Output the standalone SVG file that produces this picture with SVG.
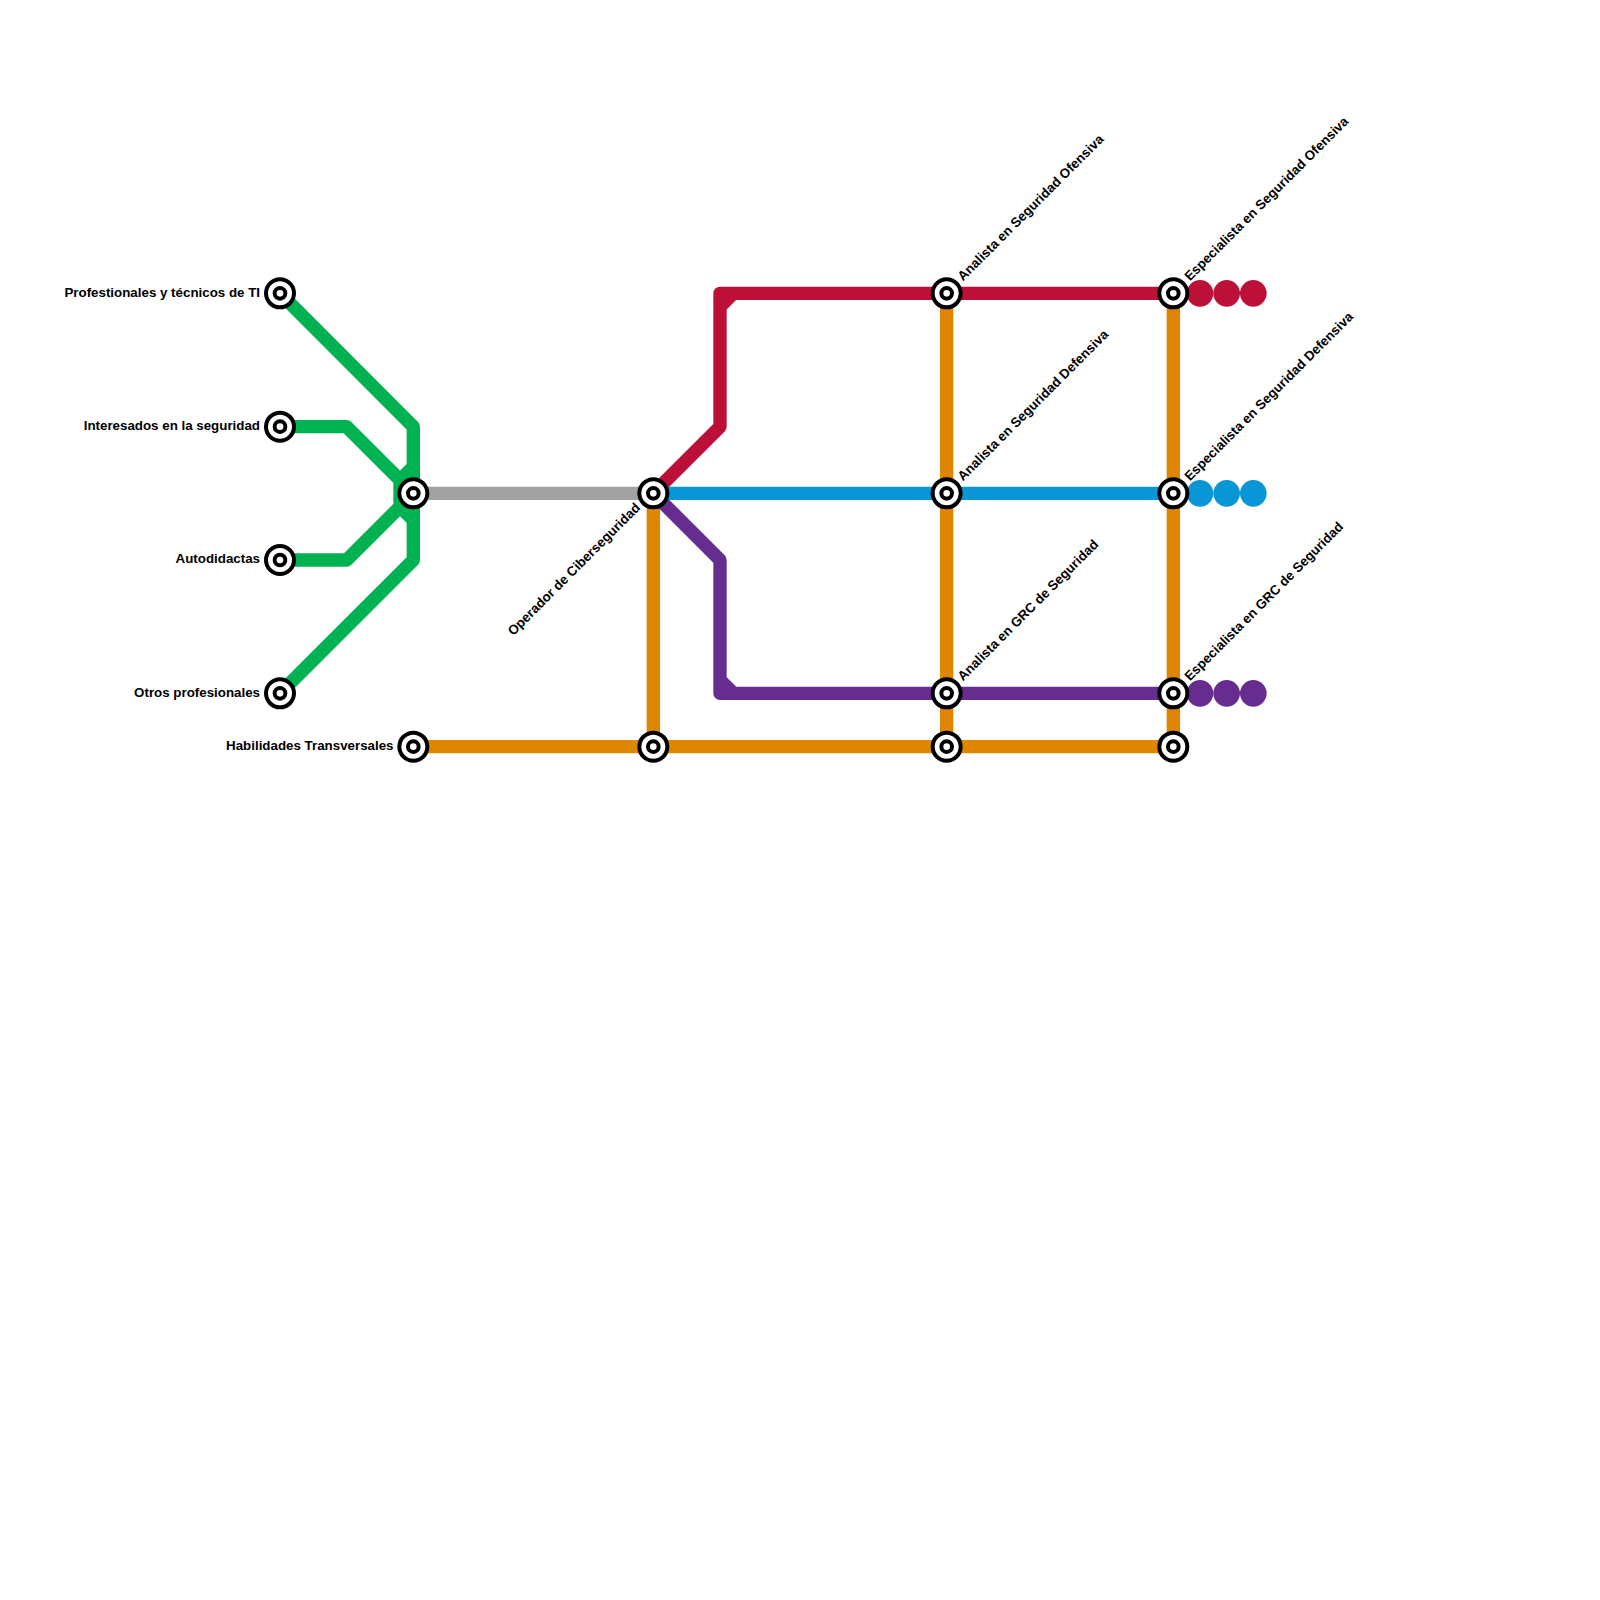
<svg xmlns="http://www.w3.org/2000/svg" width="1600" height="1600" viewBox="0 0 1600 1600">
<style>
.l{fill:none;stroke-width:13.33;stroke-linejoin:round;stroke-linecap:round}
.g{stroke:#00b251}.y{stroke:#a2a2a2}.o{stroke:#df8600}.b{stroke:#0896d7}.r{stroke:#bd1038}.p{stroke:#662c90}
text{font-family:"Liberation Sans",Arial,sans-serif;font-size:13.33px;font-weight:700;fill:#000}
.e{text-anchor:end}
</style>
<defs>
<g id="s"><circle r="14" fill="#fff" stroke="#000" stroke-width="4"/><circle r="5.33" fill="#fff" stroke="#000" stroke-width="4"/></g>
</defs>
<rect width="1600" height="1600" fill="#fff"/>
<g id="connectors">
<path class="l g" d="M280 293.33L413.33 426.67V560L280 693.33"/>
<path class="l g" d="M280 426.67H346.67L400 480V506.67L346.67 560H280"/>
<path class="l g" d="M400 480L413.33 466.67M400 506.67L413.33 520"/>
<path class="l y" d="M413.33 493.33H653.33"/>
<path class="l o" d="M653.33 493.33V746.67M413.33 746.67H1173.33M946.67 293.33V746.67M1173.33 293.33V746.67"/>
<path class="l r" d="M653.33 493.33L720 426.67V293.33H1173.33M720 306.67L733.33 293.33"/>
<path class="l p" d="M653.33 493.33L720 560V693.33H1173.33M720 680L733.33 693.33"/>
<path class="l b" d="M653.33 493.33H1173.33"/>
</g>
<g id="ends">
<circle cx="1200" cy="293.33" r="13.33" fill="#bd1038"/><circle cx="1226.67" cy="293.33" r="13.33" fill="#bd1038"/><circle cx="1253.33" cy="293.33" r="13.33" fill="#bd1038"/>
<circle cx="1200" cy="493.33" r="13.33" fill="#0896d7"/><circle cx="1226.67" cy="493.33" r="13.33" fill="#0896d7"/><circle cx="1253.33" cy="493.33" r="13.33" fill="#0896d7"/>
<circle cx="1200" cy="693.33" r="13.33" fill="#662c90"/><circle cx="1226.67" cy="693.33" r="13.33" fill="#662c90"/><circle cx="1253.33" cy="693.33" r="13.33" fill="#662c90"/>
</g>
<g id="n1"><use href="#s" x="280" y="293.33"/><text class="e" x="260" y="296.5">Profestionales y técnicos de TI</text></g>
<g id="n2"><use href="#s" x="280" y="426.67"/><text class="e" x="260" y="429.5">Interesados en la seguridad</text></g>
<g id="n3"><use href="#s" x="280" y="560"/><text class="e" x="260" y="563">Autodidactas</text></g>
<g id="n4"><use href="#s" x="280" y="693.33"/><text class="e" x="260" y="696.5">Otros profesionales</text></g>
<g id="n5"><use href="#s" x="413.33" y="493.33"/></g>
<g id="n6"><use href="#s" x="413.33" y="746.67"/><text class="e" x="393.5" y="749.5">Habilidades Transversales</text></g>
<g id="n7"><use href="#s" x="653.33" y="493.33"/><text class="e" transform="translate(641 508.5) rotate(-45)">Operador de Ciberseguridad</text></g>
<g id="n8"><use href="#s" x="653.33" y="746.67"/></g>
<g id="n9"><use href="#s" x="946.67" y="293.33"/><text transform="translate(963 281.5) rotate(-45)">Analista en Seguridad Ofensiva</text></g>
<g id="n10"><use href="#s" x="946.67" y="493.33"/><text transform="translate(963 481.5) rotate(-45)">Analista en Seguridad Defensiva</text></g>
<g id="n11"><use href="#s" x="946.67" y="693.33"/><text transform="translate(963 681.5) rotate(-45)">Analista en GRC de Seguridad</text></g>
<g id="n12"><use href="#s" x="946.67" y="746.67"/></g>
<g id="n13"><use href="#s" x="1173.33" y="293.33"/><text transform="translate(1190 281.5) rotate(-45)">Especialista en Seguridad Ofensiva</text></g>
<g id="n14"><use href="#s" x="1173.33" y="493.33"/><text transform="translate(1190 481.5) rotate(-45)">Especialista en Seguridad Defensiva</text></g>
<g id="n15"><use href="#s" x="1173.33" y="693.33"/><text transform="translate(1190 681.5) rotate(-45)">Especialista en GRC de Seguridad</text></g>
<g id="n16"><use href="#s" x="1173.33" y="746.67"/></g>
</svg>
